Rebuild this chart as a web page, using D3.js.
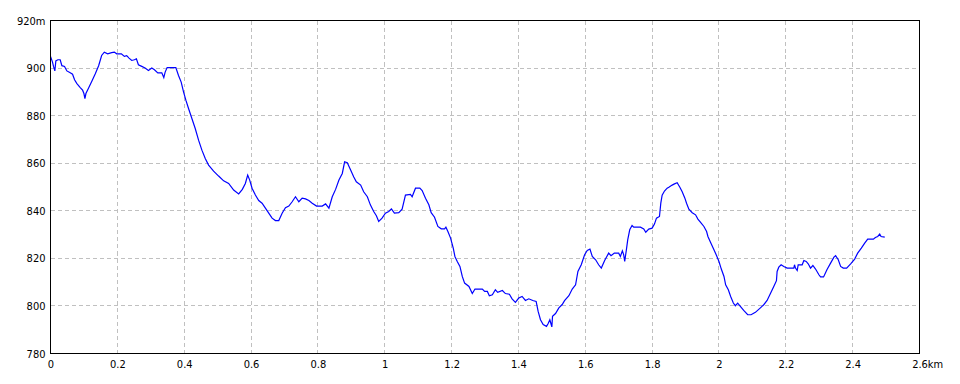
<!DOCTYPE html>
<html>
<head>
  <meta charset='utf-8'>
  <title>elevation profile</title>
  <script src="https://cdn.jsdelivr.net/npm/d3@7"></script>
  <style>
    html, body {
      margin: 0;
      padding: 0;
      background: #fff;
    }
    text {
      font-family: "DejaVu Sans Condensed", "Liberation Sans", sans-serif;
      font-size: 11px;
      fill: #000;
    }
  </style>
</head>
<body>
<script>
// distance along the track (km) and elevation (m)
var distKm = [
  0, 0.006, 0.009, 0.013, 0.016, 0.022, 0.029, 0.034, 0.042, 0.049, 0.059, 0.066, 0.072, 0.079, 0.089, 0.096,
  0.100, 0.103, 0.106, 0.114, 0.124, 0.134, 0.144, 0.153, 0.161, 0.171, 0.183, 0.191, 0.198, 0.212, 0.221, 0.228,
  0.235, 0.243, 0.251, 0.257, 0.263, 0.273, 0.283, 0.293, 0.303, 0.311, 0.321, 0.333, 0.339, 0.343, 0.349, 0.375,
  0.383, 0.391, 0.398, 0.405, 0.413, 0.423, 0.433, 0.443, 0.453, 0.463, 0.473, 0.488, 0.503, 0.518, 0.533,
  0.548, 0.563, 0.574, 0.583, 0.590, 0.596, 0.603, 0.613, 0.623, 0.633, 0.643, 0.653, 0.663, 0.673, 0.683, 0.693,
  0.703, 0.713, 0.723, 0.733, 0.743, 0.753, 0.763, 0.773, 0.783, 0.796, 0.813, 0.823, 0.833, 0.843, 0.853, 0.863,
  0.873, 0.880, 0.888, 0.898, 0.907, 0.915, 0.928, 0.937, 0.948, 0.957, 0.967, 0.975, 0.982, 0.992, 1.002, 1.012,
  1.020, 1.029, 1.042, 1.052, 1.062, 1.077, 1.082, 1.092, 1.105,
  1.112, 1.122, 1.132, 1.139, 1.149, 1.159, 1.169, 1.179, 1.183, 1.189, 1.197, 1.205, 1.210, 1.217, 1.225, 1.232,
  1.239, 1.252, 1.262, 1.270, 1.292, 1.299, 1.307, 1.313, 1.322, 1.331, 1.338, 1.352, 1.361, 1.373, 1.381, 1.391,
  1.401, 1.411, 1.421, 1.431, 1.443, 1.453, 1.459, 1.466, 1.474, 1.484, 1.489, 1.494, 1.498, 1.500, 1.502, 1.511,
  1.521, 1.531, 1.538, 1.551, 1.561, 1.571, 1.578, 1.588, 1.598, 1.606, 1.614, 1.621, 1.631, 1.640, 1.648,
  1.658, 1.670, 1.677, 1.687, 1.700, 1.705, 1.711, 1.715, 1.718, 1.723, 1.727, 1.733, 1.740, 1.745, 1.765, 1.775,
  1.781, 1.790, 1.800, 1.807, 1.813, 1.822, 1.826, 1.830, 1.837, 1.845, 1.850, 1.860, 1.867, 1.875, 1.883, 1.890,
  1.898, 1.903, 1.910, 1.920, 1.930, 1.937, 1.945, 1.955, 1.963, 1.967, 1.975, 1.985, 1.993, 2.000, 2.007, 2.015,
  2.020, 2.028, 2.035, 2.043, 2.049, 2.056, 2.064, 2.074, 2.086, 2.096, 2.109,
  2.124, 2.134, 2.144, 2.154, 2.164, 2.172, 2.174, 2.179, 2.186, 2.194, 2.204, 2.224, 2.226, 2.229, 2.234, 2.237,
  2.249, 2.254, 2.261, 2.267, 2.274, 2.281, 2.289, 2.299, 2.304, 2.313, 2.323, 2.334, 2.344, 2.349, 2.357, 2.364,
  2.372, 2.382, 2.394, 2.406, 2.415, 2.426, 2.436, 2.445, 2.462, 2.468, 2.475, 2.481, 2.485, 2.496
];
var elevM = [
  904.9, 902.5, 900.7, 898.8, 903, 903.5, 903.5, 901, 900.7, 898.8, 898, 897.4, 895.1, 893.5, 891.8, 890.7,
  889.3, 887.2, 889.3, 891.6, 894.6, 897.6, 901, 905.3, 906.7, 906, 906.5, 906.7, 906, 906, 904.9, 905.2,
  904.2, 903.2, 903.5, 903.9, 901.4, 900.7, 900, 899, 900, 899.3, 898, 898, 896, 898.3, 900.2, 900.2,
  896.9, 894.1, 890, 886.5, 883, 878.8, 874.6, 869.7, 865.5, 862, 859.2, 856.7, 854.6, 852.6, 851.5,
  848.7, 847.1, 849, 851.5, 855, 852.9, 849.5, 846.6, 844.3, 843.2, 841.1, 839, 836.9, 835.9, 835.9, 839,
  841.3, 842, 843.8, 845.9, 843.8, 845.3, 845, 844.3, 843.2, 842, 842, 842.9, 841.1, 845.9, 849, 852.9,
  855.7, 860.6, 860.2, 857.1, 854.3, 852.2, 850.8, 848, 845.9, 842.5, 839.7, 837.9, 835.5, 836.9, 839, 839.7,
  840.8, 839, 839.2, 840.7, 846.6, 846.9, 845.9, 849.5, 849.5,
  848.5, 845.3, 842.5, 839.2, 837.3, 833.4, 832.4, 832.4, 833.1, 831.3, 828.5, 824.3, 820.8, 818.7, 816.6, 812.4,
  809.6, 808.2, 805.2, 807.1, 807.1, 806.1, 806.1, 804.3, 804.7, 806.8, 805.7, 806.5, 805.2, 804.9, 803, 801.5,
  803.3, 804, 802.3, 803, 802.3, 801.9, 797.7, 794.2, 792.2, 791.4, 792.6, 794.2, 792.2, 791.2, 795.6, 796.8,
  799.2, 800.6, 802.2, 804.3, 807.1, 808.9, 814.5, 817.3, 821.5, 823.3, 823.9, 820.8, 819.4, 817.3, 815.9,
  819.1, 822.2, 821.1, 822.2, 822.2, 820.8, 823.2, 821.5, 818.7, 823.6, 827.8, 832, 833.8, 833.1, 833.1, 832.4,
  831, 832.3, 832.7, 834.4, 836.9, 837.6, 843.2, 846.6, 848.3, 849.5, 849.9, 850.8, 851.3, 851.8, 849.9, 848,
  845.3, 843.2, 840.7, 839.2, 838.3, 836.5, 835.1, 833.4, 831.3, 829.2, 826.7, 823.6, 821.1, 818.7, 815.5, 812.4,
  808.9, 806.8, 804, 801.2, 800.1, 801.2, 799.8, 798.1, 796.3, 796.3, 797.3,
  799.2, 800.5, 802.3, 805.2, 808.2, 810.6, 814.5, 816.3, 817.3, 816.6, 815.9, 815.9, 817.3, 815.9, 814.9, 817.3,
  817.3, 819.1, 818.7, 817.7, 815.9, 817, 815.5, 813.1, 812.2, 812.2, 815.2, 818, 820.5, 821.1, 819.4, 816.6,
  815.9, 815.9, 817.7, 819.7, 822.2, 824.3, 826.4, 828.1, 828.1, 828.8, 829.2, 830.2, 829.2, 828.9
];
var xTicks = [0, 0.2, 0.4, 0.6, 0.8, 1, 1.2, 1.4, 1.6, 1.8, 2, 2.2, 2.4, 2.6];
var yTicks = [780, 800, 820, 840, 860, 880, 900, 920];

var width = 960, height = 384;
var plotLeft = 50.5, plotRight = 919.5, plotTop = 20.5, plotBottom = 353.5;

var svg = d3.select('body').append('svg')
  .attr('width', width)
  .attr('height', height);

var x = d3.scaleLinear().domain([0, 2.6]).range([plotLeft, plotRight]);
var y = d3.scaleLinear().domain([780, 920]).range([plotBottom, plotTop]);

// dashed grid, inner lines only
var grid = svg.append('g')
  .attr('stroke', '#c0c0c0')
  .attr('stroke-dasharray', '4,3')
  .attr('shape-rendering', 'crispEdges');

grid.selectAll('.vg')
  .data(xTicks.slice(1, -1))
  .enter().append('line')
  .attr('x1', d => Math.floor(x(d)) + 0.5)
  .attr('x2', d => Math.floor(x(d)) + 0.5)
  .attr('y1', plotTop)
  .attr('y2', plotBottom);

grid.selectAll('.hg')
  .data(yTicks.slice(1, -1))
  .enter().append('line')
  .attr('x1', plotLeft)
  .attr('x2', plotRight)
  .attr('y1', d => Math.floor(y(d)) + 0.5)
  .attr('y2', d => Math.floor(y(d)) + 0.5);

// profile line
var line = d3.line()
  .x((d, i) => x(distKm[i]))
  .y(d => y(d));

svg.append('path')
  .datum(elevM)
  .attr('fill', 'none')
  .attr('stroke', '#0000ff')
  .attr('stroke-width', 1.2)
  .attr('d', line);

// frame
svg.append('rect')
  .attr('x', plotLeft)
  .attr('y', plotTop)
  .attr('width', plotRight - plotLeft)
  .attr('height', plotBottom - plotTop)
  .attr('fill', 'none')
  .attr('stroke', '#000')
  .attr('shape-rendering', 'crispEdges');

// axis labels
var xAxis = d3.axisBottom(x)
  .tickValues(xTicks)
  .tickSize(0)
  .tickPadding(7)
  .tickFormat(d => d3.format('~g')(d));

var gx = svg.append('g')
  .attr('transform', 'translate(0,' + plotBottom + ')')
  .call(xAxis);
gx.select('.domain').remove();

// unit after the last distance label, number stays centred on its tick
gx.selectAll('.tick').filter(d => d === 2.6).select('text')
  .each(function () {
    var w = this.getComputedTextLength();
    d3.select(this).attr('text-anchor', 'start').attr('x', -w / 2).text('2.6km');
  });

var yAxis = d3.axisLeft(y)
  .tickValues(yTicks)
  .tickSize(0)
  .tickPadding(5)
  .tickFormat(d => d === 920 ? d + 'm' : d);

var gy = svg.append('g')
  .attr('transform', 'translate(' + plotLeft + ',0)')
  .call(yAxis);
gy.select('.domain').remove();

[gx, gy].forEach(g => g.attr('font-family', null).attr('font-size', null));
</script>
</body>
</html>
